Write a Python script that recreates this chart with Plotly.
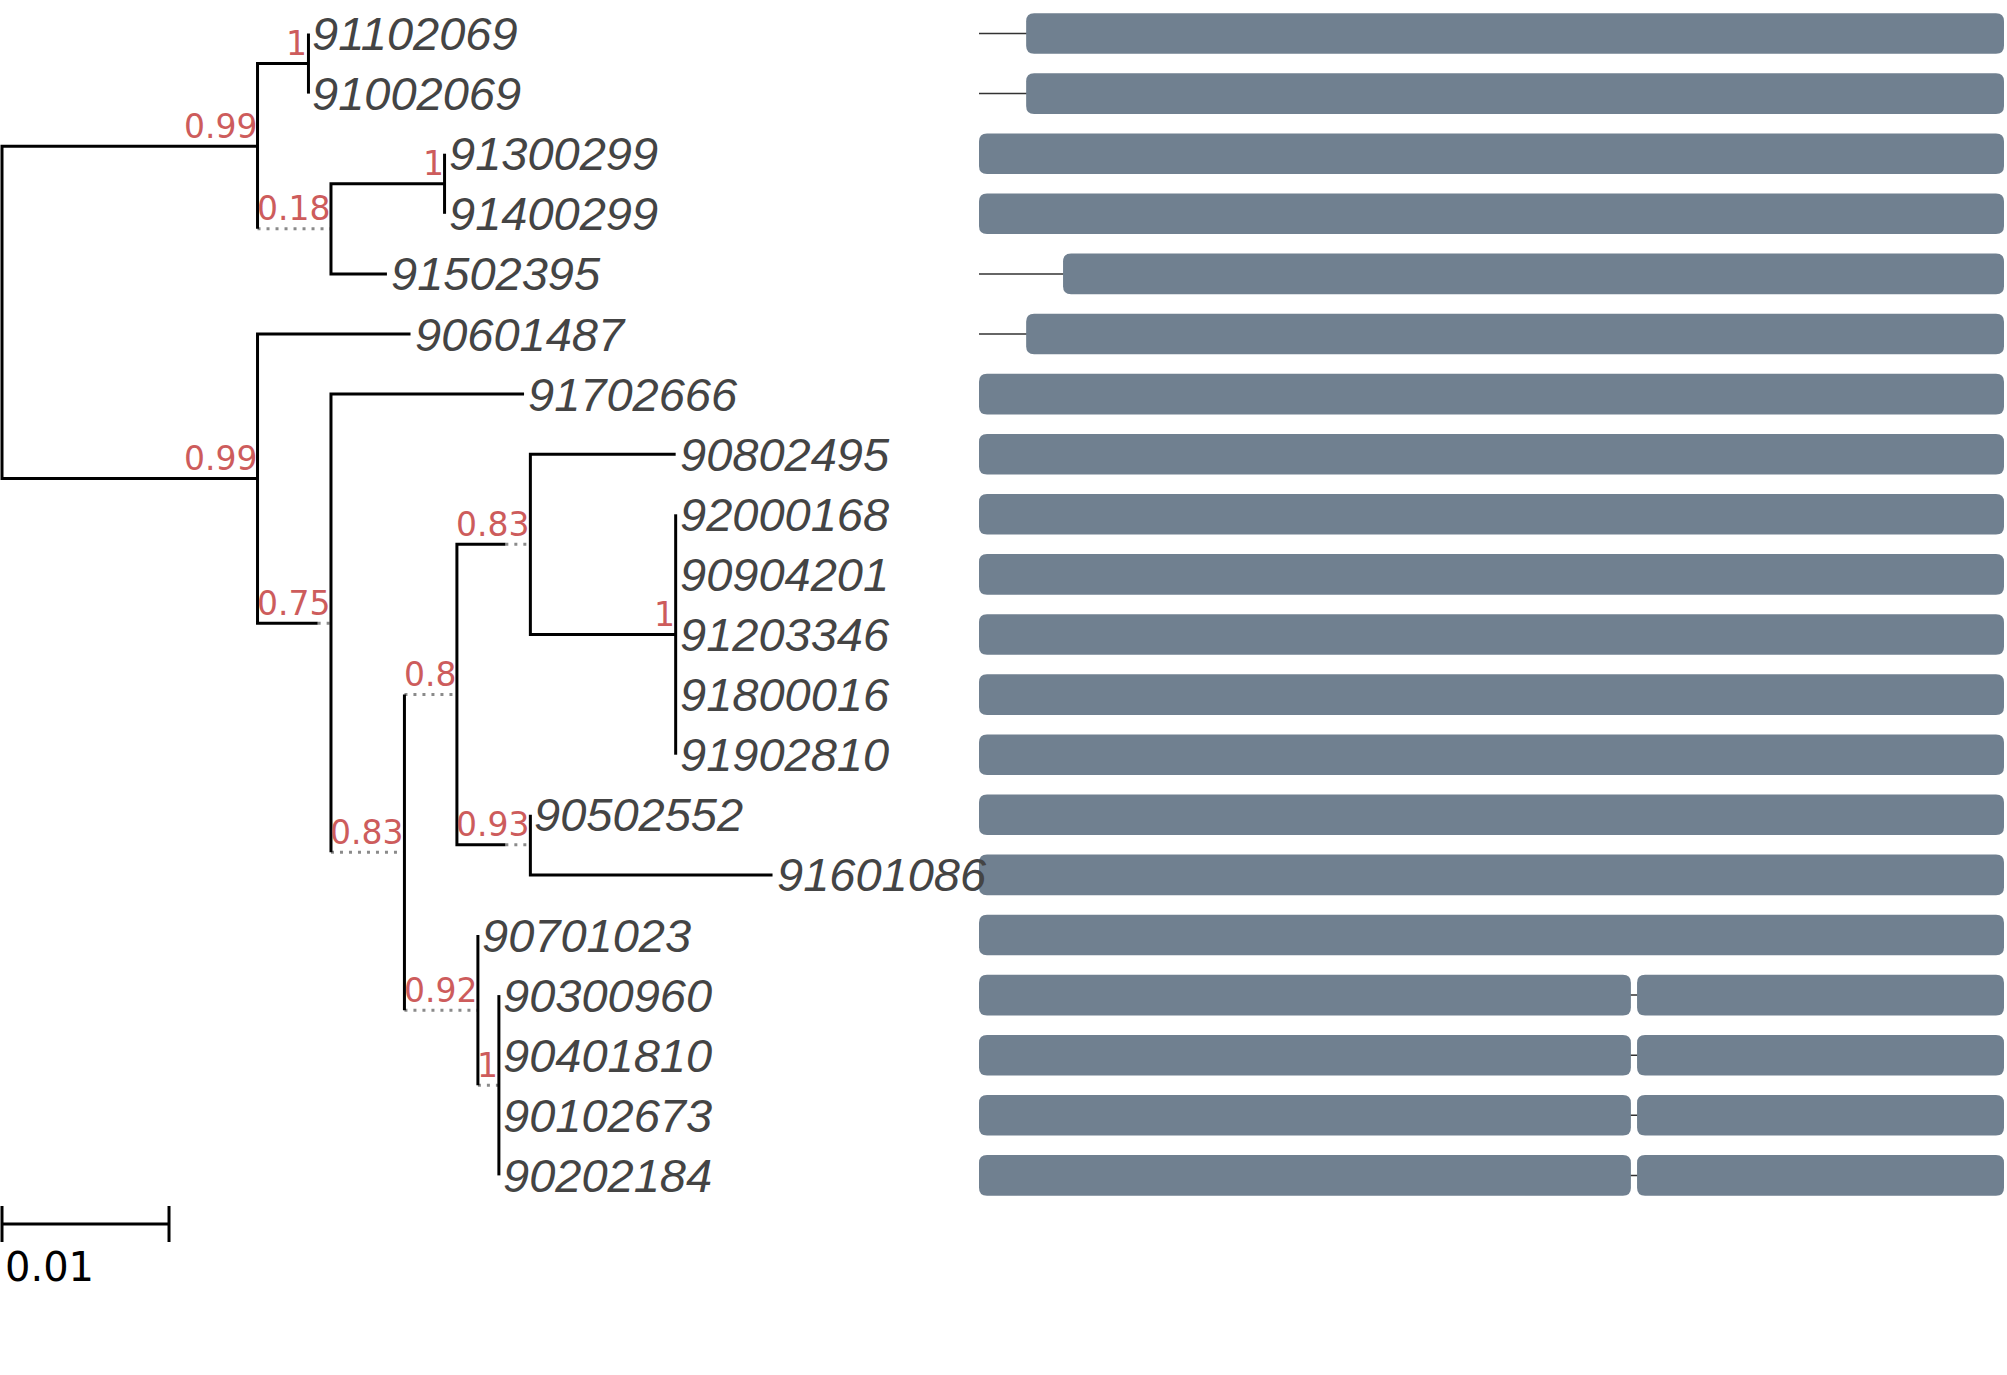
import plotly.graph_objects as go

# ---------------- data ----------------
# tree given as node list: name, parent, branch length (subst./site), support
NODE_NAMES = ["root", "n_top", "n_a", "91102069", "91002069", "n_b", "n_c", "91300299",
              "91400299", "91502395", "n_low", "90601487", "n_075", "91702666", "n_083b",
              "n_08", "n_083a", "90802495", "n_1", "92000168", "90904201", "91203346",
              "91800016", "91902810", "n_093", "90502552", "91601086", "n_092", "90701023",
              "n_1b", "90300960", "90401810", "90102673", "90202184"]
NODE_PARENT = [None, "root", "n_top", "n_a", "n_a", "n_top", "n_b", "n_c",
               "n_c", "n_b", "root", "n_low", "n_low", "n_075", "n_075",
               "n_083b", "n_08", "n_083a", "n_083a", "n_1", "n_1", "n_1",
               "n_1", "n_1", "n_08", "n_093", "n_093", "n_083b", "n_092",
               "n_092", "n_1b", "n_1b", "n_1b", "n_1b"]
BRANCH_LENGTH = [0.0, 0.0153, 0.00305, 0.0, 0.0, 0.0, 0.0068, 0.0,
                 0.0, 0.00335, 0.0153, 0.00916, 0.0036, 0.01156, 0.0,
                 0.0, 0.0029, 0.0087, 0.0087, 0.0, 0.0, 0.0,
                 0.0, 0.0, 0.0029, 0.0, 0.0145, 0.0, 0.0,
                 0.0, 0.0, 0.0, 0.0, 0.0]
SUPPORT = [None, 0.99, 1, None, None, 0.18, 1, None,
           None, None, 0.99, None, 0.75, None, 0.83,
           0.8, 0.83, None, 1, None, None, None,
           None, None, 0.93, None, None, 0.92, None,
           1, None, None, None, None]

# alignment blocks per leaf (alignment positions), in leaf order
ALIGN_LENGTH = 1000
ALIGN_SEGMENTS = {
    "91102069": [(46, 1000)],
    "91002069": [(46, 1000)],
    "91300299": [(0, 1000)],
    "91400299": [(0, 1000)],
    "91502395": [(82, 1000)],
    "90601487": [(46, 1000)],
    "91702666": [(0, 1000)],
    "90802495": [(0, 1000)],
    "92000168": [(0, 1000)],
    "90904201": [(0, 1000)],
    "91203346": [(0, 1000)],
    "91800016": [(0, 1000)],
    "91902810": [(0, 1000)],
    "90502552": [(0, 1000)],
    "91601086": [(0, 1000)],
    "90701023": [(0, 1000)],
    "90300960": [(0, 636), (642, 1000)],
    "90401810": [(0, 636), (642, 1000)],
    "90102673": [(0, 636), (642, 1000)],
    "90202184": [(0, 636), (642, 1000)],
}
SCALE_BAR = 0.01

# ---------------- layout constants ----------------
W, H = 2007, 1375
TREE_DOMAIN = [0.0, 979 / W]
ALN_DOMAIN = [979 / W, 2004 / W]
TREE_XRANGE = [-0.00012, 0.0585]
ROW0_PX, ROW_PX = 33.5, 60.1
Y_RANGE = [(H - ROW0_PX) / ROW_PX, -ROW0_PX / ROW_PX]
SUP_SIZE = 33
LEAF_SIZE = 47
SUP_COLOR = "#cd5c5c"
LEAF_COLOR = "#444444"
BAR_COLOR = "#708090"

px_per_unit = (TREE_DOMAIN[1] - TREE_DOMAIN[0]) * W / (TREE_XRANGE[1] - TREE_XRANGE[0])


def face_width_units(text):
    # DejaVu Sans advance widths
    em = sum(0.318 if ch == "." else 0.636 for ch in text)
    return em * SUP_SIZE / px_per_unit


def fmt(s):
    return ("%g" % s)


children = {n: [] for n in NODE_NAMES}
for n, p in zip(NODE_NAMES, NODE_PARENT):
    if p is not None:
        children[p].append(n)
blen = dict(zip(NODE_NAMES, BRANCH_LENGTH))
supp = dict(zip(NODE_NAMES, SUPPORT))

xpos, xsolid, ypos = {}, {}, {}
leaves = []


def walk(n, parent_x):
    bl = blen[n]
    ext = face_width_units(fmt(supp[n])) if supp[n] is not None else 0.0
    xsolid[n] = parent_x + bl
    xpos[n] = parent_x + max(bl, ext)
    if not children[n]:
        ypos[n] = len(leaves)
        leaves.append(n)
    else:
        for c in children[n]:
            walk(c, xpos[n])
        ypos[n] = (ypos[children[n][0]] + ypos[children[n][-1]]) / 2


walk("root", 0.0)

solid_x, solid_y, dot_x, dot_y = [], [], [], []
for n in NODE_NAMES:
    ch = children[n]
    if not ch:
        continue
    f, l = ch[0], ch[-1]
    solid_x += [xsolid[f], xpos[n], xpos[n], xsolid[l], None]
    solid_y += [ypos[f], ypos[f], ypos[l], ypos[l], None]
    for c in ch[1:-1]:
        solid_x += [xpos[n], xsolid[c], None]
        solid_y += [ypos[c], ypos[c], None]
    for c in ch:
        if xpos[c] > xsolid[c] + 1e-12:
            dot_x += [xsolid[c], xpos[c], None]
            dot_y += [ypos[c], ypos[c], None]

fig = go.Figure()
fig.add_trace(go.Scatter(x=dot_x, y=dot_y, mode="lines", xaxis="x", yaxis="y",
                         line=dict(color="#8a8a8a", width=3, dash="3px,6px"),
                         hoverinfo="skip", showlegend=False))
fig.add_trace(go.Scatter(x=solid_x, y=solid_y, mode="lines", xaxis="x", yaxis="y",
                         line=dict(color="black", width=3),
                         hoverinfo="skip", showlegend=False))

annotations = []
for n in leaves:
    annotations.append(dict(x=xpos[n], y=ypos[n], xref="x", yref="y", text="<i>" + n + "</i>",
                            showarrow=False, xanchor="left", yanchor="middle",
                            xshift=3, borderpad=0,
                            font=dict(family="Liberation Sans", size=LEAF_SIZE,
                                      color=LEAF_COLOR)))
for n in NODE_NAMES:
    if supp[n] is None:
        continue
    annotations.append(dict(x=xpos[n], y=ypos[n], xref="x", yref="y", text=fmt(supp[n]),
                            showarrow=False, xanchor="right", yanchor="middle",
                            yshift=20, borderpad=0,
                            font=dict(family="DejaVu Sans", size=SUP_SIZE, color=SUP_COLOR)))

# alignment: gap line + rounded blocks
gx, gy = [], []
shapes = []
aln_px_per_unit = (ALN_DOMAIN[1] - ALN_DOMAIN[0]) * W / ALIGN_LENGTH
rx = 8 / aln_px_per_unit
ry = 8 / ROW_PX
half = 20.3 / ROW_PX
for n in leaves:
    r = ypos[n]
    gx += [0, ALIGN_LENGTH, None]
    gy += [r, r, None]
    for (s, e) in ALIGN_SEGMENTS[n]:
        x0, x1, y0, y1 = s, e, r - half, r + half
        path = (f"M {x0+rx},{y0} L {x1-rx},{y0} Q {x1},{y0} {x1},{y0+ry} "
                f"L {x1},{y1-ry} Q {x1},{y1} {x1-rx},{y1} L {x0+rx},{y1} "
                f"Q {x0},{y1} {x0},{y1-ry} L {x0},{y0+ry} Q {x0},{y0} {x0+rx},{y0} Z")
        shapes.append(dict(type="path", path=path, xref="x2", yref="y",
                           fillcolor=BAR_COLOR, line=dict(width=0), layer="above"))
fig.add_trace(go.Scatter(x=gx, y=gy, mode="lines", xaxis="x2", yaxis="y",
                         line=dict(color="#333333", width=1.5),
                         hoverinfo="skip", showlegend=False))

# scale bar
sb_y = 1 - 1224 / H
tick = 18 / H
shapes += [
    dict(type="line", xref="x", yref="paper", x0=0, x1=SCALE_BAR, y0=sb_y, y1=sb_y,
         line=dict(color="black", width=3)),
    dict(type="line", xref="x", yref="paper", x0=0, x1=0, y0=sb_y - tick, y1=sb_y + tick,
         line=dict(color="black", width=3)),
    dict(type="line", xref="x", yref="paper", x0=SCALE_BAR, x1=SCALE_BAR,
         y0=sb_y - tick, y1=sb_y + tick, line=dict(color="black", width=3)),
]
annotations.append(dict(x=0, y=1 - 1267 / H, xref="x", yref="paper", text=fmt(SCALE_BAR),
                        showarrow=False, xanchor="left", yanchor="middle", borderpad=0,
                        xshift=2,
                        font=dict(family="DejaVu Sans", size=40, color="black")))

fig.update_layout(
    width=W, height=H,
    margin=dict(l=0, r=0, t=0, b=0),
    paper_bgcolor="white", plot_bgcolor="white",
    showlegend=False,
    xaxis=dict(domain=TREE_DOMAIN, range=TREE_XRANGE, visible=False, fixedrange=True),
    xaxis2=dict(domain=ALN_DOMAIN, range=[0, ALIGN_LENGTH], visible=False, anchor="y",
                fixedrange=True),
    yaxis=dict(domain=[0, 1], range=Y_RANGE, visible=False, fixedrange=True),
    shapes=shapes,
    annotations=annotations,
)

fig.write_html("out.html", config={"displayModeBar": False},
               post_script="document.body.style.margin='0px';document.body.style.overflow='hidden';")
